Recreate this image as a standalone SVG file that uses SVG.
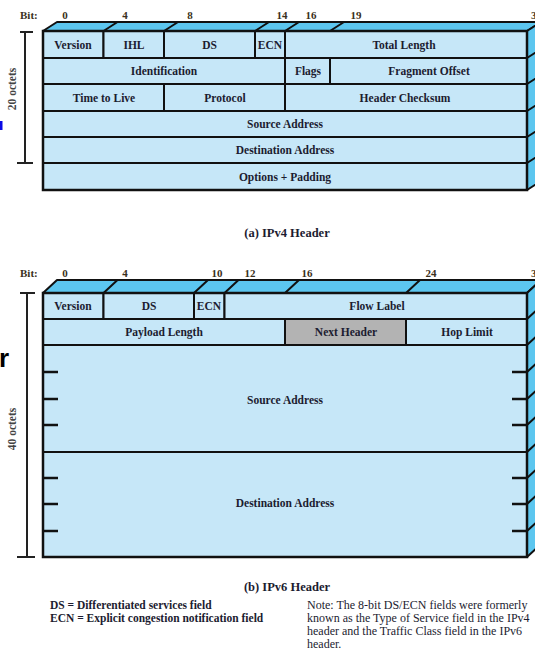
<svg xmlns="http://www.w3.org/2000/svg" width="535" height="658" viewBox="0 0 535 658">
<style>
.f{fill:#c6e7f8;stroke:#111;stroke-width:2}
.g{fill:#b3b3b3;stroke:#111;stroke-width:2}
.side{fill:#5cc6ef;stroke:#111;stroke-width:2;stroke-linejoin:round}
.ln{stroke:#111;stroke-width:2;fill:none}
.tk{stroke:#111;stroke-width:2.5;fill:none}
.br{stroke:#222;stroke-width:2;fill:none}
.t{font-family:"Liberation Serif","Times New Roman",serif;font-weight:bold;font-size:11.5px;fill:#1c1c30;text-anchor:middle}
.b{font-family:"Liberation Serif","Times New Roman",serif;font-weight:bold;font-size:11px;fill:#3a3020;text-anchor:middle}
.bl{font-family:"Liberation Serif","Times New Roman",serif;font-weight:bold;font-size:11px;fill:#3a3020}
.cap{font-family:"Liberation Serif","Times New Roman",serif;font-weight:bold;font-size:12.5px;fill:#1c1c30;text-anchor:middle}
.oct{font-family:"Liberation Serif","Times New Roman",serif;font-weight:bold;font-size:11.5px;fill:#444;text-anchor:middle}
.nb{font-family:"Liberation Serif","Times New Roman",serif;font-weight:bold;font-size:11.5px;fill:#1c1c30}
.nr{font-family:"Liberation Serif","Times New Roman",serif;font-size:12px;fill:#1c1c30}
</style>
<rect width="535" height="658" fill="#fff"/>

<!-- ===== IPv4 ===== -->
<g id="ipv4-3d">
<polygon class="side" points="43,31 57,22 541,22 527,31"/>
<polygon class="side" points="527,31 541,22 541,181 527,190"/>
<path class="ln" d="M103.5,31 l14,-9 M164,31 l14,-9 M255,31 l14,-9 M285,31 l14,-9 M330,31 l14,-9"/>
<path class="ln" d="M527,58 l14,-9 M527,84 l14,-9 M527,111 l14,-9 M527,137 l14,-9 M527,163 l14,-9"/>
</g>
<g id="ipv4-bits">
<text class="bl" x="20" y="19">Bit:</text>
<text class="b" x="65" y="19">0</text>
<text class="b" x="125" y="19">4</text>
<text class="b" x="190" y="19">8</text>
<text class="b" x="282" y="19">14</text>
<text class="b" x="311" y="19">16</text>
<text class="b" x="356" y="19">19</text>
<text class="bl" x="531" y="19">32</text>
</g>
<g id="v4-version"><rect class="f" x="43" y="31" width="60.5" height="27"/><text class="t" x="73" y="48.5">Version</text></g>
<g id="v4-ihl"><rect class="f" x="103.5" y="31" width="60.5" height="27"/><text class="t" x="134" y="48.5">IHL</text></g>
<g id="v4-ds"><rect class="f" x="164" y="31" width="91" height="27"/><text class="t" x="209.5" y="48.5">DS</text></g>
<g id="v4-ecn"><rect class="f" x="255" y="31" width="30" height="27"/><text class="t" x="270" y="48.5">ECN</text></g>
<g id="v4-total-length"><rect class="f" x="285" y="31" width="242" height="27"/><text class="t" x="404" y="48.5">Total Length</text></g>
<g id="v4-identification"><rect class="f" x="43" y="58" width="242" height="26"/><text class="t" x="164" y="75">Identification</text></g>
<g id="v4-flags"><rect class="f" x="285" y="58" width="45" height="26"/><text class="t" x="308" y="75">Flags</text></g>
<g id="v4-fragment-offset"><rect class="f" x="330" y="58" width="197" height="26"/><text class="t" x="429" y="75">Fragment Offset</text></g>
<g id="v4-ttl"><rect class="f" x="43" y="84" width="121" height="27"/><text class="t" x="104" y="101.5">Time to Live</text></g>
<g id="v4-protocol"><rect class="f" x="164" y="84" width="121" height="27"/><text class="t" x="225" y="101.5">Protocol</text></g>
<g id="v4-checksum"><rect class="f" x="285" y="84" width="242" height="27"/><text class="t" x="405" y="101.5">Header Checksum</text></g>
<g id="v4-source"><rect class="f" x="43" y="111" width="484" height="26"/><text class="t" x="285" y="128">Source Address</text></g>
<g id="v4-destination"><rect class="f" x="43" y="137" width="484" height="26"/><text class="t" x="285" y="154">Destination Address</text></g>
<g id="v4-options"><rect class="f" x="43" y="163" width="484" height="27"/><text class="t" x="285" y="180.5">Options + Padding</text></g>
<rect x="43" y="31" width="484" height="159" fill="none" stroke="#111" stroke-width="2.5"/>

<g id="dimension-lines">
<path class="br" d="M25,32 V163 M20,32 H33 M17,163 H33"/>
<path class="br" d="M27,293 V557 M20,293 H35 M17,557 H35"/>
</g>
<text class="oct" transform="translate(16,89) rotate(-90)">20 octets</text>
<text class="oct" transform="translate(16,429) rotate(-90)">40 octets</text>
<rect x="0" y="121" width="2.5" height="9" fill="#0a0ae6"/>
<text x="-1" y="367" font-family="Liberation Sans, Arial, sans-serif" font-weight="bold" font-size="26" fill="#000">r</text>

<text class="cap" x="287" y="237">(a) IPv4 Header</text>

<!-- ===== IPv6 ===== -->
<g id="ipv6-3d">
<polygon class="side" points="43,293 57,280 541,280 527,293"/>
<polygon class="side" points="527,293 541,280 541,544 527,557"/>
<path class="ln" d="M103.5,293 l14,-13 M194,293 l14,-13 M224.5,293 l14,-13 M285,293 l14,-13 M406,293 l14,-13"/>
<path class="ln" d="M527,319 l14,-13 M527,345 l14,-13 M527,372 l14,-13 M527,399 l14,-13 M527,425 l14,-13 M527,452 l14,-13 M527,478 l14,-13 M527,504 l14,-13 M527,531 l14,-13"/>
</g>
<g id="ipv6-bits">
<text class="bl" x="20" y="277">Bit:</text>
<text class="b" x="65" y="277">0</text>
<text class="b" x="125" y="277">4</text>
<text class="b" x="217" y="277">10</text>
<text class="b" x="250" y="277">12</text>
<text class="b" x="307" y="277">16</text>
<text class="b" x="431" y="277">24</text>
<text class="bl" x="531" y="277">32</text>
</g>
<g id="v6-version"><rect class="f" x="43" y="293" width="60.5" height="26"/><text class="t" x="73" y="310">Version</text></g>
<g id="v6-ds"><rect class="f" x="103.5" y="293" width="90.5" height="26"/><text class="t" x="149" y="310">DS</text></g>
<g id="v6-ecn"><rect class="f" x="194" y="293" width="30.5" height="26"/><text class="t" x="209" y="310">ECN</text></g>
<g id="v6-flow-label"><rect class="f" x="224.5" y="293" width="302.5" height="26"/><text class="t" x="377" y="310">Flow Label</text></g>
<g id="v6-payload-length"><rect class="f" x="43" y="319" width="242" height="26"/><text class="t" x="164" y="336">Payload Length</text></g>
<g id="v6-next-header"><rect class="g" x="285" y="319" width="121" height="26"/><text class="t" x="346" y="336">Next Header</text></g>
<g id="v6-hop-limit"><rect class="f" x="406" y="319" width="121" height="26"/><text class="t" x="467" y="336">Hop Limit</text></g>
<g id="v6-source"><rect class="f" x="43" y="345" width="484" height="107"/><text class="t" x="285" y="404">Source Address</text>
<path class="tk" d="M43,372 H58 M43,399 H58 M43,425 H58 M512,372 H527 M512,399 H527 M512,425 H527"/></g>
<g id="v6-destination"><rect class="f" x="43" y="452" width="484" height="105"/><text class="t" x="285" y="507">Destination Address</text>
<path class="tk" d="M43,478 H58 M43,504 H58 M43,531 H58 M512,478 H527 M512,504 H527 M512,531 H527"/></g>
<rect x="43" y="293" width="484" height="264" fill="none" stroke="#111" stroke-width="2.5"/>

<text class="cap" x="287" y="591">(b) IPv6 Header</text>

<g id="legend">
<text class="nb" x="50" y="609">DS = Differentiated services field</text>
<text class="nb" x="50" y="622">ECN = Explicit congestion notification field</text>
</g>
<g id="note">
<text class="nr" x="307" y="609">Note: The 8-bit DS/ECN fields were formerly</text>
<text class="nr" x="307" y="622">known as the Type of Service field in the IPv4</text>
<text class="nr" x="307" y="635">header and the Traffic Class field in the IPv6</text>
<text class="nr" x="307" y="648">header.</text>
</g>
</svg>
